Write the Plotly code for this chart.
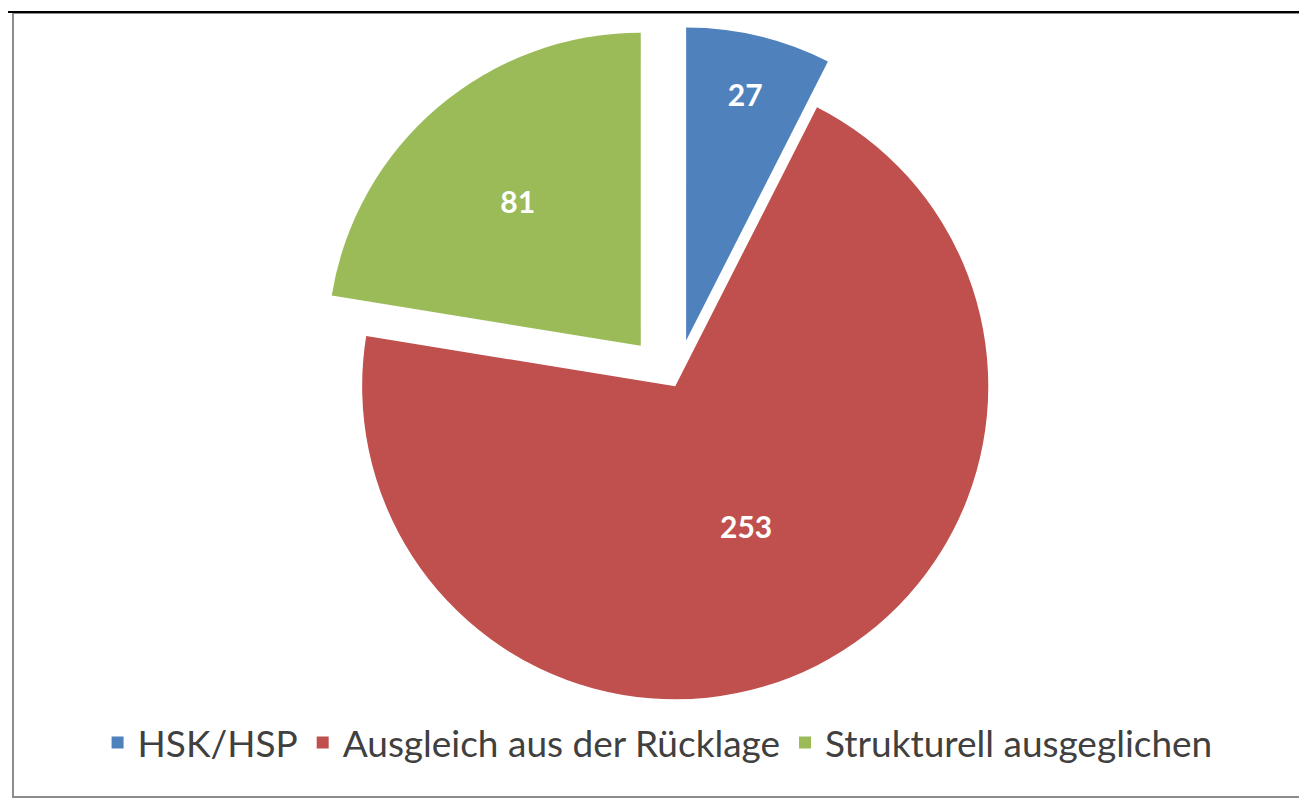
import plotly.graph_objects as go

# Daten
labels = ["HSK/HSP", "Ausgleich aus der Rücklage", "Strukturell ausgeglichen"]
values = [27, 253, 81]
pulls = [0.15, 0, 0.17]
colors = ["#4F81BD", "#C0504D", "#9BBB59"]

W, H = 1307, 798

fig = go.Figure(go.Pie(
    labels=labels,
    values=values,
    pull=pulls,
    sort=False,
    direction="clockwise",
    rotation=0,
    marker=dict(colors=colors, line=dict(width=0)),
    textinfo="value",
    textposition="inside",
    insidetextorientation="horizontal",
    textfont=dict(family="Lato, Open Sans, sans-serif", size=30, color="white", weight="bold"),
    domain=dict(x=[0.174, 0.847], y=[0.067, 0.985]),
    hoverinfo="label+value",
))

# Rahmen
fig.add_shape(type="rect", xref="paper", yref="paper",
              x0=5 / W, x1=1302 / W, y0=1 - 789 / H, y1=1 - 5 / H,
              line=dict(color="#8c8c8c", width=2))
fig.add_shape(type="line", xref="paper", yref="paper",
              x0=0, x1=1, y0=1 - 4 / H, y1=1 - 4 / H,
              line=dict(color="black", width=2))

fig.update_layout(
    width=W, height=H,
    margin=dict(l=0, r=0, t=0, b=0),
    paper_bgcolor="white",
    plot_bgcolor="white",
    showlegend=True,
    legend=dict(
        orientation="h",
        x=0.497, xanchor="center",
        y=1 - 735 / H, yanchor="middle",
        font=dict(family="Lato, Open Sans, sans-serif", size=37, color="#404040"),
        itemwidth=30,
    ),
)

fig.write_html("out.html")
